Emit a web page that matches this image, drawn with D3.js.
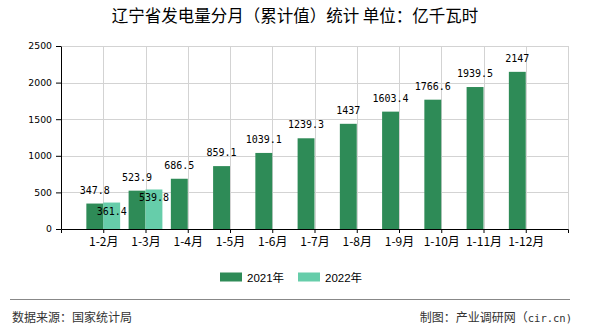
<!DOCTYPE html>
<html>
<head>
<meta charset="utf-8">
<script src="https://cdn.jsdelivr.net/npm/d3@7/dist/d3.min.js"></script>
<style>
html,body{margin:0;padding:0;background:#fff;}
svg{display:block;}
</style>
</head>
<body>
<svg id="chart" width="590" height="330"></svg>
<script>
const categories = ["1-2月","1-3月","1-4月","1-5月","1-6月","1-7月","1-8月","1-9月","1-10月","1-11月","1-12月"];
const values2021 = [347.8, 523.9, 686.5, 859.1, 1039.1, 1239.3, 1437, 1603.4, 1766.6, 1939.5, 2147];
const values2022 = [361.4, 539.8, null, null, null, null, null, null, null, null, null];
const seriesNames = ["2021年", "2022年"];
const seriesColors = ["#2e8b57", "#66cdaa"];
const yTicks = [0, 500, 1000, 1500, 2000, 2500];
const titleText = "辽宁省发电量分月（累计值）统计 单位：亿千瓦时";
const sourceText = "数据来源：国家统计局";
const creditText = "制图：产业调研网（";
const creditTail = "cir.cn)";

(function () {
const svg = d3.select("#chart");
const pL = 61, pR = 568, pT = 46, pB = 229;
const cjk = "'Noto Sans CJK SC', 'Liberation Sans', sans-serif";
const mono = "'DejaVu Sans Mono', monospace";

const x = d3.scalePoint().domain(categories).range([pL, pR]).padding(1);
const y = d3.scaleLinear().domain([0, 2500]).range([pB, pT]);
const bw = x.step() * 0.4;

// title
svg.append("text").attr("x", 295).attr("y", 22).attr("text-anchor", "middle")
  .style("font-family", cjk).style("font-size", "16.5px").attr("fill", "#000").text(titleText);

// grid
const grid = svg.append("g").attr("stroke", "#d3d3d3").attr("stroke-width", 1);
yTicks.forEach(t => {
  grid.append("line").attr("x1", pL).attr("x2", pR)
    .attr("y1", Math.round(y(t)) + 0.5).attr("y2", Math.round(y(t)) + 0.5);
});
categories.forEach(c => {
  grid.append("line").attr("x1", Math.round(x(c)) + 0.5).attr("x2", Math.round(x(c)) + 0.5)
    .attr("y1", pT).attr("y2", pB);
});
grid.append("line").attr("x1", pR + 0.5).attr("x2", pR + 0.5).attr("y1", pT).attr("y2", pB);

// bars
const series = [values2021, values2022];
series.forEach((vals, si) => {
  const g = svg.append("g");
  categories.forEach((c, i) => {
    const v = vals[i];
    if (v == null) return;
    const bx = si === 0 ? x(c) - bw : x(c);
    g.append("rect").attr("x", bx).attr("y", y(v)).attr("width", bw).attr("height", y(0) - y(v))
      .attr("fill", seriesColors[si]);
  });
});

// axes
const xAxis = svg.append("g").attr("transform", `translate(0,${pB})`)
  .call(d3.axisBottom(x).tickSize(4).tickSizeOuter(4).tickPadding(4));
xAxis.selectAll("text").style("font-family", cjk).style("font-size", "12px").attr("fill", "#000");
xAxis.selectAll("path,line").attr("stroke", "#000");

const yAxis = svg.append("g").attr("transform", `translate(${pL},0)`)
  .call(d3.axisLeft(y).tickValues(yTicks).tickFormat(d3.format("d")).tickSize(5).tickSizeOuter(0).tickPadding(4));
yAxis.selectAll("text").style("font-family", "'DejaVu Sans', sans-serif").style("font-size", "9.3px").attr("fill", "#000");
yAxis.selectAll("path,line").attr("stroke", "#000");

// value labels
categories.forEach((c, i) => {
  const v = values2021[i];
  if (v != null) {
    svg.append("text").attr("x", x(c) - bw / 2).attr("y", y(v) - 10).attr("text-anchor", "middle")
      .style("font-family", mono).style("font-size", "10px").attr("fill", "#000").text(String(v));
  }
});
categories.forEach((c, i) => {
  const v = values2022[i];
  if (v != null) {
    svg.append("text").attr("x", x(c) + bw / 2).attr("y", y(v) + 12).attr("text-anchor", "middle")
      .style("font-family", mono).style("font-size", "10px").attr("fill", "#000").text(String(v));
  }
});

// legend
const legendX = [220, 298];
seriesNames.forEach((n, i) => {
  svg.append("rect").attr("x", legendX[i]).attr("y", 272.5).attr("width", 22).attr("height", 9).attr("fill", seriesColors[i]);
  svg.append("text").attr("x", legendX[i] + 27).attr("y", 281.5)
    .style("font-family", "'Liberation Sans', 'Noto Sans CJK SC', sans-serif").style("font-size", "11.5px")
    .attr("fill", "#000").text(n);
});

// footer
svg.append("line").attr("x1", 10).attr("x2", 570).attr("y1", 299.5).attr("y2", 299.5)
  .attr("stroke", "#888").attr("stroke-width", 1.2);
svg.append("text").attr("x", 12).attr("y", 321.5).style("font-family", cjk).style("font-size", "12px")
  .attr("fill", "#333").text(sourceText);
const ct = svg.append("text").attr("x", 572).attr("y", 321.5).attr("text-anchor", "end")
  .style("font-family", cjk).style("font-size", "12px").attr("fill", "#333");
ct.append("tspan").text(creditText);
ct.append("tspan").style("font-family", mono).style("font-size", "10.5px").text(creditTail);
})();
</script>
</body>
</html>
